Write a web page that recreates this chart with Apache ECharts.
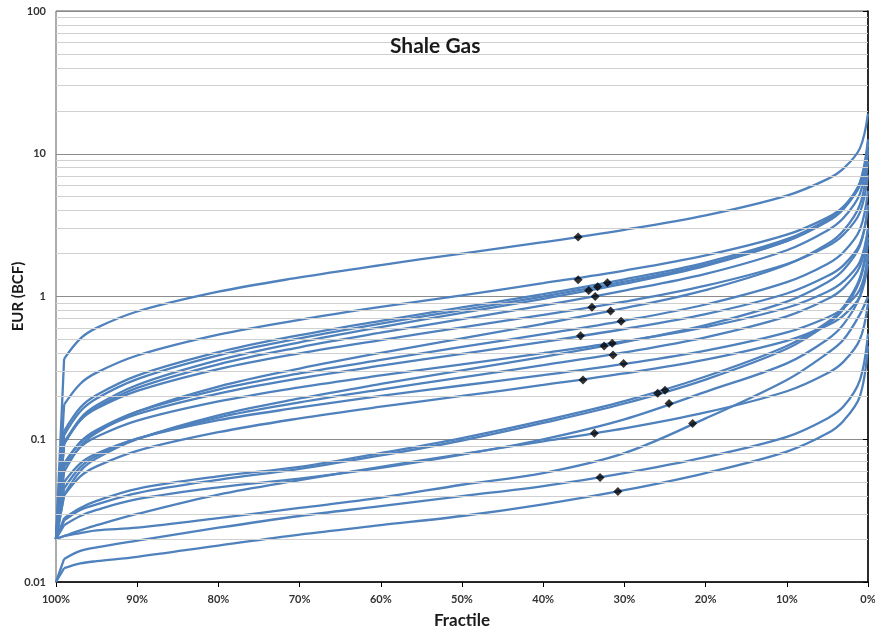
<!DOCTYPE html>
<html>
<head>
<meta charset="utf-8">
<script src="https://cdn.jsdelivr.net/npm/echarts@6/dist/echarts.min.js"></script>
<style>
html,body{margin:0;padding:0;background:#fff;}
#chart{width:875px;height:629px;}
</style>
</head>
<body>
<div id="chart"></div>
<script>
// Fractile (% exceedance) positions at which each curve was read
const fractiles = [100, 99, 97, 95, 90, 80, 70, 60, 50, 40, 30, 20, 10, 5, 3, 1, 0];

// EUR (BCF) read for each curve at the fractiles above
const c01 = [0.02, 0.366, 0.507, 0.603, 0.785, 1.08, 1.36, 1.66, 2.0, 2.40, 2.93, 3.70, 5.09, 6.64, 7.89, 10.9, 19.1];
const c02 = [0.02, 0.175, 0.245, 0.293, 0.386, 0.540, 0.687, 0.846, 1.02, 1.24, 1.52, 1.94, 2.71, 3.57, 4.28, 6.0, 10.7];
const c03 = [0.02, 0.114, 0.167, 0.204, 0.279, 0.407, 0.536, 0.676, 0.839, 1.04, 1.32, 1.73, 2.52, 3.45, 4.23, 6.19, 11.9];
const c04 = [0.02, 0.107, 0.157, 0.193, 0.264, 0.387, 0.509, 0.646, 0.804, 1.0, 1.27, 1.67, 2.44, 3.35, 4.11, 6.05, 11.7];
const c05 = [0.02, 0.0935, 0.140, 0.173, 0.240, 0.358, 0.478, 0.611, 0.767, 0.964, 1.23, 1.64, 2.45, 3.40, 4.21, 6.30, 12.6];
const c06 = [0.02, 0.0923, 0.136, 0.167, 0.229, 0.335, 0.441, 0.558, 0.695, 0.865, 1.10, 1.44, 2.11, 2.90, 3.56, 5.24, 10.2];
const c07 = [0.02, 0.0951, 0.136, 0.164, 0.218, 0.310, 0.400, 0.495, 0.607, 0.743, 0.920, 1.19, 1.69, 2.25, 2.72, 3.87, 7.11];
const c08 = [0.02, 0.0592, 0.0893, 0.111, 0.156, 0.234, 0.313, 0.403, 0.509, 0.644, 0.828, 1.11, 1.67, 2.33, 2.90, 4.39, 8.89];
const c09 = [0.02, 0.0665, 0.0955, 0.116, 0.156, 0.223, 0.289, 0.360, 0.443, 0.545, 0.678, 0.879, 1.26, 1.69, 2.05, 2.94, 5.50];
const c10 = [0.02, 0.0678, 0.0951, 0.114, 0.150, 0.209, 0.267, 0.328, 0.397, 0.481, 0.592, 0.753, 1.05, 1.39, 1.66, 2.33, 4.16];
const c11 = [0.02, 0.064, 0.0879, 0.104, 0.135, 0.184, 0.231, 0.280, 0.335, 0.401, 0.486, 0.610, 0.834, 1.08, 1.28, 1.75, 3.02];
const c12 = [0.02, 0.0408, 0.060, 0.0735, 0.100, 0.147, 0.193, 0.244, 0.304, 0.378, 0.479, 0.630, 0.920, 1.26, 1.54, 2.26, 4.39];
const c13 = [0.02, 0.0453, 0.0638, 0.0766, 0.101, 0.142, 0.181, 0.223, 0.271, 0.330, 0.406, 0.518, 0.726, 0.959, 1.15, 1.62, 2.92];
const c14 = [0.02, 0.0502, 0.0678, 0.0793, 0.101, 0.136, 0.167, 0.201, 0.238, 0.281, 0.337, 0.417, 0.560, 0.713, 0.834, 1.12, 1.87];
const c15 = [0.02, 0.0404, 0.055, 0.0646, 0.083, 0.112, 0.140, 0.169, 0.201, 0.240, 0.289, 0.361, 0.489, 0.628, 0.738, 1.0, 1.70];
const c16 = [0.02, 0.027, 0.032, 0.035, 0.042, 0.052, 0.062, 0.077, 0.098, 0.13, 0.178, 0.262, 0.43, 0.64, 0.82, 1.3, 2.4];
const c17 = [0.02, 0.028, 0.033, 0.037, 0.045, 0.055, 0.064, 0.08, 0.102, 0.135, 0.185, 0.275, 0.45, 0.66, 0.85, 1.35, 2.6];
const c18 = [0.02, 0.025, 0.029, 0.032, 0.038, 0.046, 0.053, 0.063, 0.078, 0.1, 0.138, 0.215, 0.34, 0.5, 0.64, 1.0, 2.0];
const c19 = [0.02, 0.021, 0.022, 0.023, 0.024, 0.028, 0.033, 0.039, 0.048, 0.058, 0.08, 0.14, 0.26, 0.4, 0.5, 0.75, 1.0];
const c20 = [0.02, 0.021, 0.023, 0.025, 0.03, 0.041, 0.0517, 0.064, 0.0787, 0.0967, 0.119, 0.154, 0.217, 0.29, 0.35, 0.5, 0.9];
const c21 = [0.01, 0.0145, 0.0165, 0.0175, 0.0195, 0.024, 0.029, 0.034, 0.04, 0.047, 0.058, 0.075, 0.104, 0.14, 0.17, 0.26, 0.55];
const c22 = [0.01, 0.0125, 0.0135, 0.014, 0.015, 0.018, 0.0215, 0.025, 0.029, 0.035, 0.044, 0.058, 0.082, 0.11, 0.135, 0.2, 0.45];

// Black diamonds (fractile %, EUR)
const markFractile = [35.7, 35.7, 34.4, 33.3, 32.1, 33.6, 34.0, 31.7, 30.4, 35.4, 32.5, 31.5, 31.4, 30.1, 35.1, 25.9, 25.0, 24.5, 21.6, 33.7, 33.0, 30.8];
const markEUR = [2.61, 1.31, 1.10, 1.17, 1.25, 1.0, 0.84, 0.79, 0.67, 0.53, 0.45, 0.47, 0.39, 0.34, 0.26, 0.21, 0.22, 0.178, 0.129, 0.11, 0.054, 0.043];

// Axis ticks
const xTicks = [100, 90, 80, 70, 60, 50, 40, 30, 20, 10, 0];
const yTicks = [0.01, 0.1, 1, 10, 100];
const yMinor = [0.02,0.03,0.04,0.05,0.06,0.07,0.08,0.09,0.2,0.3,0.4,0.5,0.6,0.7,0.8,0.9,2,3,4,5,6,7,8,9,20,30,40,50,60,70,80,90];

const curves = [c01,c02,c03,c04,c05,c06,c07,c08,c09,c10,c11,c12,c13,c14,c15,c16,c17,c18,c19,c20,c21,c22];

const FONT = 'Lato, "Liberation Sans", sans-serif';
const BLUE = '#4f81bd';

const series = [];
// minor grid lines + minor ticks
series.push({
  type: 'line', data: [], silent: true, z: 1,
  markLine: {
    silent: true, symbol: 'none', animation: false,
    label: {show: false},
    lineStyle: {color: '#d0d0d0', width: 1, type: 'solid'},
    data: yMinor.map(v => [{coord: [100, v]}, {coord: [0, v]}])
  }
});
series.push({
  type: 'line', data: [], silent: true, z: 2,
  markLine: {
    silent: true, symbol: 'none', animation: false,
    label: {show: false},
    lineStyle: {color: '#000', width: 1, type: 'solid'},
    data: yMinor.map(v => [{coord: [100.45, v]}, {coord: [100, v]}])
  }
});
curves.forEach((c, i) => {
  const pts = fractiles.map((f, k) => [f, c[k]]);
  // steep drop to the floor value at 100%
  series.push({
    type: 'line', z: 3, data: pts.slice(0, 2),
    showSymbol: false, symbol: 'none', smooth: false,
    lineStyle: {color: BLUE, width: 2.3},
    animation: false, silent: true
  });
  // main body of the curve
  series.push({
    type: 'line', z: 3, data: pts.slice(1),
    showSymbol: false, symbol: 'none', smooth: 0.35,
    lineStyle: {color: BLUE, width: 2.3},
    animation: false, silent: true
  });
});
series.push({
  type: 'scatter', z: 5,
  data: markFractile.map((f, k) => [f, markEUR[k]]),
  symbol: 'diamond', symbolSize: 9,
  itemStyle: {color: '#000'},
  animation: false, silent: true
});

const chart = echarts.init(document.getElementById('chart'), null, {renderer: 'canvas'});
chart.setOption({
  animation: false,
  backgroundColor: '#fff',
  title: {
    text: 'Shale Gas', left: 385, top: 31,
    textStyle: {fontFamily: FONT, fontSize: 21, fontWeight: 'bold', color: '#1a1a1a'}
  },
  grid: {
    left: 56, right: 7, top: 11, bottom: 47,
    containLabel: false, outerBoundsMode: 'none',
    show: true, borderColor: '#595959', borderWidth: 1, backgroundColor: 'transparent'
  },
  xAxis: {
    type: 'value', min: 0, max: 100, interval: 10, inverse: true,
    axisLine: {show: true, lineStyle: {color: '#000', width: 1.5}},
    axisTick: {show: true, length: 5, lineStyle: {color: '#000'}},
    axisLabel: {
      formatter: v => (xTicks.indexOf(v) >= 0 ? v + '%' : ''),
      color: '#333', fontFamily: FONT, fontSize: 11, fontWeight: 'bold', margin: 12
    },
    splitLine: {show: false},
    name: 'Fractile', nameLocation: 'middle', nameGap: 30, nameMoveOverlap: false,
    nameTextStyle: {fontFamily: FONT, fontSize: 17, fontWeight: 'bold', color: '#1a1a1a'}
  },
  yAxis: {
    type: 'log', logBase: 10, min: 0.01, max: 100,
    axisLine: {show: true, lineStyle: {color: '#000', width: 1.5}},
    axisTick: {show: true, length: 5, lineStyle: {color: '#000'}},
    axisLabel: {
      formatter: v => { const r = +(+v).toPrecision(2); return yTicks.indexOf(r) >= 0 ? String(r) : ''; },
      color: '#333', fontFamily: FONT, fontSize: 11, fontWeight: 'bold', margin: 10
    },
    splitLine: {show: true, lineStyle: {color: '#8c8c8c', width: 1}},
    name: 'EUR (BCF)', nameLocation: 'middle', nameGap: 30, nameRotate: 90, nameMoveOverlap: false,
    nameTextStyle: {fontFamily: FONT, fontSize: 15, fontWeight: 'bold', color: '#1a1a1a'}
  },
  series: series
});
</script>
</body>
</html>
